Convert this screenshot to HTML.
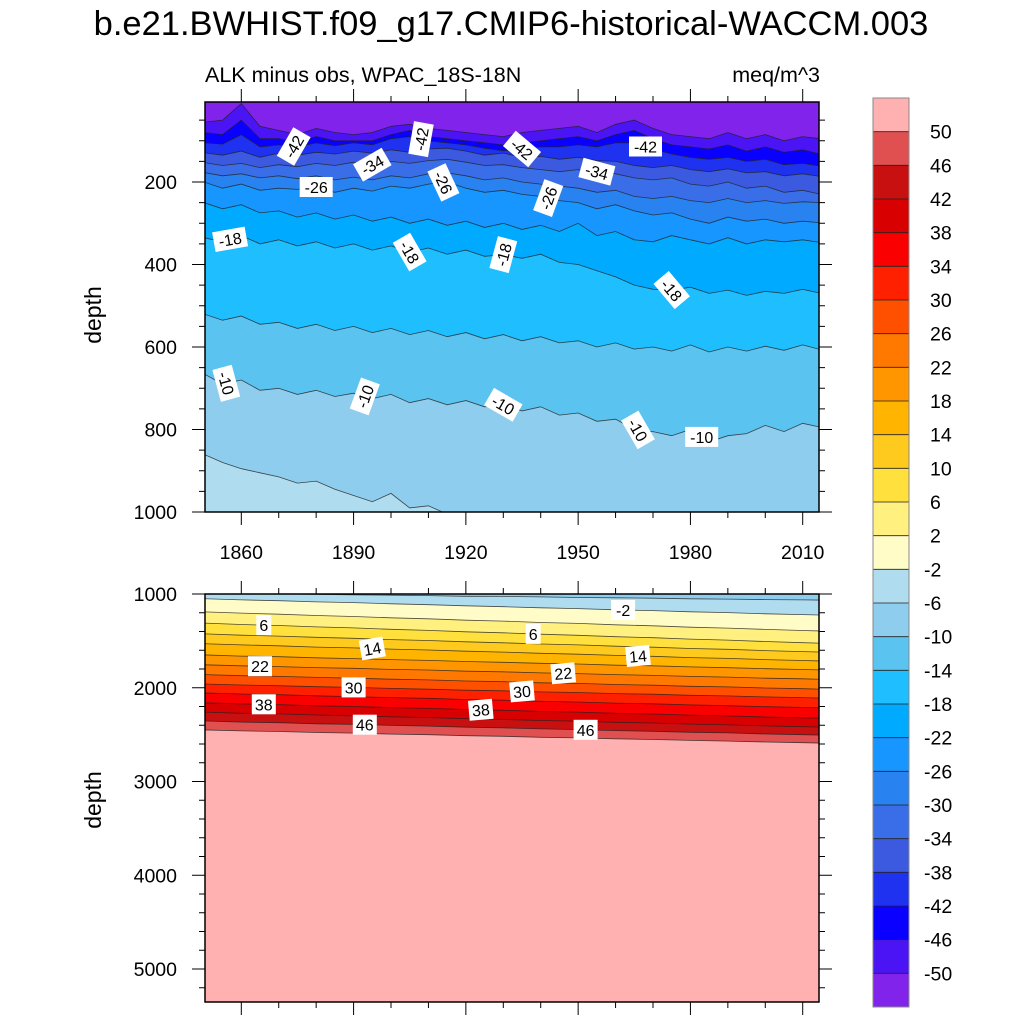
<!DOCTYPE html>
<html><head><meta charset="utf-8"><style>
html,body{margin:0;padding:0;background:#fff;width:1024px;height:1024px;overflow:hidden;}
svg{display:block;font-family:"Liberation Sans",Arial,sans-serif;}
</style></head><body>
<svg id="chart" width="1024" height="1024" viewBox="0 0 1024 1024">
<text x="511" y="35" font-size="34.5" text-anchor="middle">b.e21.BWHIST.f09_g17.CMIP6-historical-WACCM.003</text>
<text x="205" y="82" font-size="21.5">ALK minus obs, WPAC_18S-18N</text>
<text x="820" y="82" font-size="21.5" text-anchor="end">meq/m^3</text>
<text transform="translate(101,315) rotate(-90)" font-size="23" text-anchor="middle">depth</text>
<text transform="translate(101,800) rotate(-90)" font-size="23" text-anchor="middle">depth</text>
<defs>
<clipPath id="clipTop"><rect x="205" y="102" width="614" height="410"/></clipPath>
<clipPath id="clipBot"><rect x="205" y="594" width="614" height="408"/></clipPath>
</defs>
<g id="topPanel" clip-path="url(#clipTop)"></g>
<g id="botPanel" clip-path="url(#clipBot)"></g>
<g id="axes"></g>
<g id="labels"></g>
<g id="cbar"></g>
</svg>
<script>
// ---- data ----
const colors = ["#8223EB","#4B14F5","#0A00FF","#1E32F0","#3C5AE0","#3A6EE8","#2882F0","#1896FF","#00AAFF","#1EBEFF","#5AC3F0","#8ECDED","#B0DCF0","#FFFCC8","#FFF080","#FFE03C","#FFCA1E","#FFB400","#FF9600","#FF7800","#FF5000","#FF2000","#FA0000","#D80000","#C81010","#E05050","#FFB0B0"];
const cbarLabels = [50,46,42,38,34,30,26,22,18,14,10,6,2,-2,-6,-10,-14,-18,-22,-26,-30,-34,-38,-42,-46,-50];
const xTickLabels = [1860,1890,1920,1950,1980,2010];
const yTickTop = [200,400,600,800,1000];
const yTickBot = [1000,2000,3000,4000,5000];

const yearsTop = [1850,1855,1860,1865,1870,1875,1880,1885,1890,1895,1900,1905,1910,1915,1920,1925,1930,1935,1940,1945,1950,1955,1960,1965,1970,1975,1980,1985,1990,1995,2000,2005,2010,2015];
const levelsTop = [-50,-46,-42,-38,-34,-30,-26,-22,-18,-14,-10,-6];
const dm50 = [55,50,10,65,75,85,70,80,85,80,65,60,70,75,80,85,90,80,75,70,65,80,60,50,70,85,90,95,80,95,85,100,90,95];
const dm46 = [80,85,50,95,95,105,90,100,100,100,85,75,90,95,100,105,110,105,100,95,90,100,85,75,95,110,115,120,110,125,115,128,122,133];
const dm42 = [105,108,85,115,110,115,105,112,105,110,95,90,100,105,110,118,124,120,115,115,110,115,105,105,120,132,140,145,140,150,145,158,155,162];
const dm38 = [129,135,125,140,130,135,128,132,125,130,122,128,120,118,125,135,130,140,138,145,140,148,150,160,165,160,170,175,168,178,175,185,180,187];
const dm34 = [153,160,155,165,158,163,155,160,152,158,150,155,148,145,152,160,158,165,170,175,170,175,180,190,195,190,205,210,200,215,210,225,220,230];
const dm30 = [177,185,180,190,185,192,185,195,188,195,185,190,180,178,185,195,190,200,205,210,215,225,220,235,240,235,245,250,240,250,245,252,248,250];
const dm26 = [200,215,205,220,215,218,212,225,215,222,210,215,205,200,215,225,220,230,235,245,250,265,255,270,280,275,290,300,285,295,290,300,295,299];
const dm22 = [250,265,255,275,270,285,275,290,280,295,285,300,290,305,295,310,300,315,305,320,300,330,320,340,345,330,340,350,335,350,340,345,340,347];
const dm18 = [335,345,330,350,340,355,345,360,350,365,355,370,360,375,365,380,376,385,375,395,400,415,430,450,460,462,455,470,462,475,465,470,460,470];
const dm14 = [520,535,525,545,540,555,545,560,550,565,555,570,560,575,565,580,570,585,575,590,585,600,590,605,600,610,595,612,600,610,598,608,595,607];
const dm10 = [665,690,680,705,700,715,705,720,712,725,715,735,725,740,730,745,740,755,745,765,760,780,775,800,805,815,800,830,815,810,790,805,785,795];
const dm6 = [860,880,895,905,915,930,925,945,960,975,955,990,985,1005,1010,1020,1025,1030,1035,1040,1045,1050,1050,1055,1060,1060,1062,1065,1065,1065,1065,1065,1065,1065];

const yearsBot = [1850,1860,1870,1880,1890,1900,1910,1920,1930,1940,1950,1960,1970,1980,1990,2000,2010,2015];
const levelsBot = [-6,-2,2,6,10,14,18,22,26,30,34,38,42,46,50];
const b6n = [990,995,999,1004,1010,1013,1017,1024,1026,1031,1037,1040,1045,1051,1054,1060,1063,1065];
const b2n = [1050,1063,1071,1084,1092,1105,1114,1126,1135,1147,1156,1169,1177,1190,1198,1211,1220,1225];
const b2 = [1190,1204,1215,1229,1240,1254,1265,1279,1289,1304,1314,1329,1339,1354,1364,1378,1389,1395];
const b6 = [1310,1325,1336,1351,1362,1377,1388,1403,1414,1429,1440,1455,1466,1481,1492,1507,1519,1525];
const b10 = [1425,1439,1449,1462,1472,1486,1496,1510,1520,1533,1543,1557,1567,1581,1590,1604,1614,1620];
const b14 = [1530,1543,1552,1566,1575,1588,1597,1610,1620,1633,1642,1655,1665,1678,1687,1700,1709,1715];
const b18 = [1650,1662,1669,1681,1689,1700,1708,1720,1728,1739,1747,1759,1766,1778,1786,1797,1805,1810];
const b22 = [1755,1766,1774,1785,1793,1804,1811,1823,1830,1842,1849,1860,1868,1879,1886,1898,1905,1910];
const b26 = [1860,1871,1879,1890,1898,1909,1916,1928,1935,1947,1954,1965,1973,1984,1991,2003,2010,2015];
const b30 = [1960,1971,1978,1989,1996,2007,2015,2026,2033,2044,2051,2062,2069,2080,2087,2098,2105,2110];
const b34 = [2055,2067,2074,2086,2094,2105,2113,2125,2133,2144,2152,2164,2171,2183,2191,2202,2210,2215];
const b38 = [2160,2172,2180,2192,2200,2212,2220,2232,2240,2252,2260,2272,2280,2292,2300,2312,2320,2325];
const b42 = [2260,2272,2279,2291,2299,2310,2318,2330,2338,2349,2357,2369,2376,2388,2396,2407,2415,2420];
const b46 = [2355,2366,2373,2384,2391,2402,2409,2421,2428,2439,2446,2457,2464,2475,2482,2493,2501,2505];
const b50 = [2450,2460,2467,2477,2484,2494,2501,2511,2518,2528,2535,2545,2552,2562,2569,2579,2586,2590];

const labelsTop = [[-42,1874,-60],[-42,1908,-80],[-34,1895,-30],[-26,1880,0],[-26,1914,65],[-42,1935,40],[-26,1942,-70],[-34,1955,15],[-42,1968,0],[-18,1857,-10],[-18,1905,60],[-18,1930,-75],[-18,1975,50],[-10,1856,75],[-10,1893,-70],[-10,1930,30],[-10,1966,60],[-10,1983,0]];
const labelsBot = [[6,1866,0],[14,1895,-10],[22,1865,0],[30,1890,0],[38,1866,0],[46,1893,0],[-2,1962,0],[6,1938,0],[14,1966,-5],[22,1946,-5],[30,1935,-5],[38,1924,-5],[46,1952,0]];

// ---- scales ----
const X0=205, X1=819;
const xS = y => X0 + (y-1850.3)*(802-240.6)/150;
const yTop = d => 512 - (1000-d)*0.4125;
const yBot = d => 594 + (d-1000)*0.09375;
const NS="http://www.w3.org/2000/svg";
function mk(tag, attrs, parent){const e=document.createElementNS(NS,tag);for(const k in attrs)e.setAttribute(k,attrs[k]);parent.appendChild(e);return e;}
const colorAbove = v => colors[(v+50)/4];

function drawPanel(g, years, levels, depths, ys, bg, top, bot, name){
  const r = mk('rect',{x:X0,y:top,width:X1-X0,height:bot-top,fill:bg},g);
  
  
  for(let k=levels.length-1;k>=0;k--){
    const arr=depths[k];
    let pts=`${X0-5},${top} `;
    pts+=`${X0-5},${ys(arr[0])} `;
    years.forEach((yr,i)=>{pts+=`${xS(yr).toFixed(1)},${ys(arr[i]).toFixed(1)} `;});
    pts+=`${X1+5},${ys(arr[arr.length-1])} ${X1+5},${top}`;
    const p=mk('polygon',{points:pts,fill:colorAbove(levels[k])},g);
    
    
  }
  for(let k=0;k<levels.length;k++){
    const arr=depths[k];
    const pts=years.map((yr,i)=>`${xS(yr).toFixed(1)},${ys(arr[i]).toFixed(1)}`).join(' ');
    const l=mk('polyline',{points:pts,fill:'none',stroke:'#222',"stroke-width":0.8,"stroke-opacity":0.8},g);
    
    
  }
}
const depthsTop=[dm50,dm46,dm42,dm38,dm34,dm30,dm26,dm22,dm18,dm14,dm10,dm6];
const depthsBot=[b6n,b2n,b2,b6,b10,b14,b18,b22,b26,b30,b34,b38,b42,b46,b50];
drawPanel(document.getElementById('topPanel'),yearsTop,levelsTop,depthsTop,yTop,colors[12],100,514,'upper');
drawPanel(document.getElementById('botPanel'),yearsBot,levelsBot,depthsBot,yBot,colors[26],592,1004,'lower');

function interp(years,arr,yr){for(let i=0;i<years.length-1;i++){if(yr>=years[i]&&yr<=years[i+1]){const t=(yr-years[i])/(years[i+1]-years[i]);return arr[i]+t*(arr[i+1]-arr[i]);}}return arr[arr.length-1];}
const lg=document.getElementById('labels');
function drawLabels(list,years,levels,depths,ys,name){
  list.forEach(([v,yr,rot])=>{
    const d=interp(years,depths[levels.indexOf(v)],yr);
    const cx=xS(yr), cy=ys(d);
    const g=mk('g',{transform:`translate(${cx.toFixed(1)},${cy.toFixed(1)}) rotate(${rot})`},lg);
    
    
    const w=String(v).length*9+6;
    mk('rect',{x:-w/2,y:-10,width:w,height:20,fill:'#fff'},g);
    const t=mk('text',{x:0,y:6,"font-size":16,"text-anchor":'middle',fill:'#000'},g);
    t.textContent=v;
  });
}
drawLabels(labelsTop,yearsTop,levelsTop,depthsTop,yTop,'upper');
drawLabels(labelsBot,yearsBot,levelsBot,depthsBot,yBot,'lower');

// ---- axes ----
const ax=document.getElementById('axes');
function line(x1,y1,x2,y2,w){mk('line',{x1,y1,x2,y2,stroke:'#000',"stroke-width":w||1},ax);}
function frame(top,bot,name){
  const r=mk('rect',{x:X0,y:top,width:X1-X0,height:bot-top,fill:'none',stroke:'#000',"stroke-width":1.5},ax);
  
  
}
frame(102,512,'upper');frame(594,1002,'lower');
for(let yr=1850;yr<=2010;yr+=10){
  const x=xS(yr); if(x<X0) continue;
  const L=(yr-1860)%30===0?13:6;
  line(x,102,x,102-L);line(x,512,x,512+L);line(x,594,x,594-L);line(x,1002,x,Math.min(1002+L,1023));
}
xTickLabels.forEach(yr=>{
  const t=mk('text',{x:xS(yr),y:559,"font-size":19.5,"text-anchor":'middle'},ax);
  t.textContent=yr;
  
  
});
for(let d=50;d<=1000;d+=50){const y=yTop(d);if(y<102)continue;const L=d%200===0?13:6;line(X0,y,X0-L,y);line(X1,y,X1+L,y);}
yTickTop.forEach(d=>{
  const t=mk('text',{x:177,y:yTop(d)+7,"font-size":19.5,"text-anchor":'end'},ax);
  t.textContent=d;
  
  
});
for(let d=1000;d<=5300;d+=200){const y=yBot(d);const L=d%1000===0?13:6;line(X0,y,X0-L,y);line(X1,y,X1+L,y);}
yTickBot.forEach(d=>{
  const t=mk('text',{x:177,y:yBot(d)+7,"font-size":19.5,"text-anchor":'end'},ax);
  t.textContent=d;
  
  
});

// ---- colorbar ----
const cb=document.getElementById('cbar');
const CB0=98, CBH=(1007-98)/27;
for(let i=0;i<27;i++){
  const r=mk('rect',{x:873,y:CB0+i*CBH,width:36,height:CBH+0.3,fill:colors[26-i],stroke:'none'},cb);
  
  
}
for(let i=1;i<27;i++){mk('line',{x1:873,y1:CB0+i*CBH,x2:909,y2:CB0+i*CBH,stroke:'#222',"stroke-width":0.8},cb);}
mk('rect',{x:873,y:CB0,width:36,height:1007-98,fill:'none',stroke:'#888',"stroke-width":1},cb);
cbarLabels.forEach((v,i)=>{
  const t=mk('text',{x:v<0?924:930,y:CB0+(i+1)*CBH+7,"font-size":19.5},cb);
  t.textContent=v;
  
  
});
</script>
</body></html>
